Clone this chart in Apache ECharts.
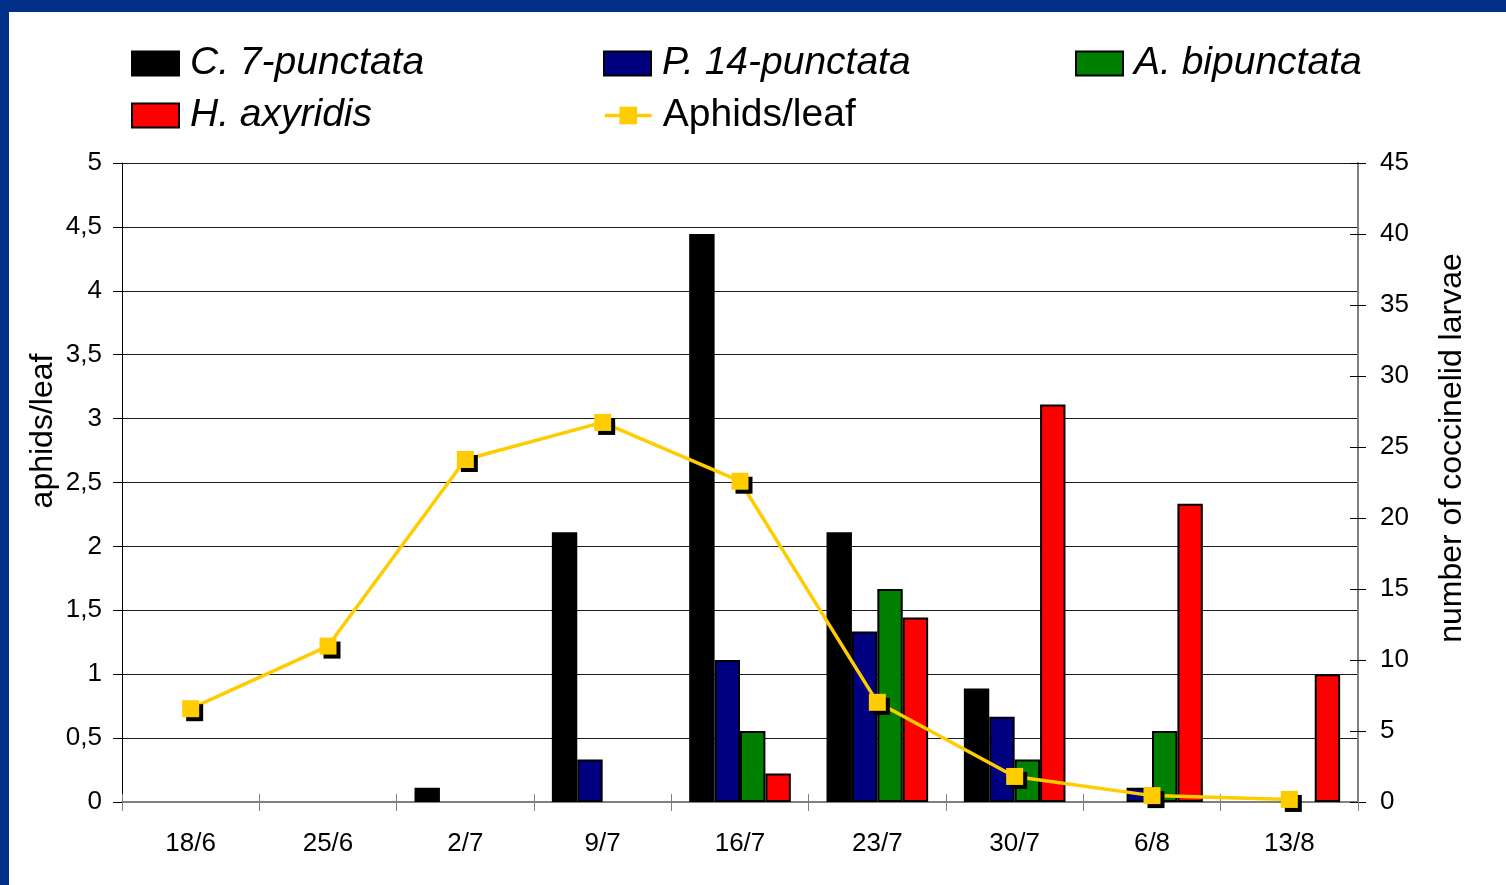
<!DOCTYPE html>
<html>
<head>
<meta charset="utf-8">
<title>Coccinellid larvae and aphids per leaf</title>
<script src="https://cdn.jsdelivr.net/npm/echarts@6/dist/echarts.min.js"></script>
<style>
  html, body { margin: 0; padding: 0; background: #ffffff; }
  #chart { width: 1506px; height: 885px; }
</style>
</head>
<body>
<div id="chart"></div>
<script>
// Sampling dates
const categories = ['18/6', '25/6', '2/7', '9/7', '16/7', '23/7', '30/7', '6/8', '13/8'];

// Number of coccinellid larvae per species (right axis)
const c7punctata = [0, 0, 1, 19, 40, 19, 8, 0, 0];
const p14punctata = [0, 0, 0, 3, 10, 12, 6, 1, 0];
const abipunctata = [0, 0, 0, 0, 5, 15, 3, 5, 0];
const haxyridis = [0, 0, 0, 0, 2, 13, 28, 21, 9];

// Aphids per leaf (left axis)
const aphidsPerLeaf = [0.73, 1.22, 2.68, 2.97, 2.51, 0.78, 0.20, 0.05, 0.02];

// Axis ranges
const leftMax = 5, leftStep = 0.5;
const rightMax = 45, rightStep = 5;

const FONT = '"Liberation Sans", Arial, sans-serif';
const GREY = '#808080';
const FRAME = '#003087';
const YELLOW = '#ffcc00';

const noZero = arr => arr.map(v => (v === 0 ? '-' : v));

const barSeries = [
  { name: 'C. 7-punctata', data: c7punctata, color: '#000000' },
  { name: 'P. 14-punctata', data: p14punctata, color: '#000080' },
  { name: 'A. bipunctata', data: abipunctata, color: '#008000' },
  { name: 'H. axyridis', data: haxyridis, color: '#ff0000' }
].map(s => ({
  name: s.name,
  type: 'bar',
  yAxisIndex: 1,
  data: noZero(s.data),
  barGap: '0%',
  barCategoryGap: '26%',
  itemStyle: { color: s.color, borderColor: '#000000', borderWidth: 2 },
  emphasis: { disabled: true },
  z: 2
}));

const lineSeries = {
  name: 'Aphids/leaf',
  type: 'line',
  yAxisIndex: 0,
  data: aphidsPerLeaf,
  symbol: 'rect',
  symbolSize: 17,
  lineStyle: { color: YELLOW, width: 3.5 },
  itemStyle: {
    color: YELLOW,
    shadowColor: '#000000',
    shadowOffsetX: 4,
    shadowOffsetY: 4,
    shadowBlur: 0
  },
  emphasis: { disabled: true },
  z: 5
};

function legendItem(name, left, top, italic, extra) {
  return Object.assign({
    data: [name],
    left: left,
    top: top,
    padding: 0,
    itemWidth: 47,
    itemHeight: 24,
    icon: 'rect',
    selectedMode: false,
    itemStyle: { shadowColor: 'rgba(0,0,0,0)', shadowOffsetX: 0, shadowOffsetY: 0 },
    textStyle: {
      fontFamily: FONT,
      fontSize: 39,
      fontStyle: italic ? 'italic' : 'normal',
      color: '#000000',
      padding: [0, 0, 0, 6]
    }
  }, extra || {});
}

const chart = echarts.init(document.getElementById('chart'), null, { renderer: 'canvas' });

chart.setOption({
  animation: false,
  backgroundColor: '#ffffff',
  grid: { left: 122, right: 148, top: 163, bottom: 83 },
  legend: [
    legendItem('C. 7-punctata', 131, 44, true),
    legendItem('P. 14-punctata', 603, 44, true),
    legendItem('A. bipunctata', 1075, 44, true),
    legendItem('H. axyridis', 131, 96, true),
    legendItem('Aphids/leaf', 603, 96, false, {
      icon: null,
      itemHeight: 22,
      lineStyle: { color: YELLOW, width: 3.5 }
    })
  ],
  xAxis: [
    {
      type: 'category',
      data: categories,
      position: 'bottom',
      axisLine: { lineStyle: { color: GREY, width: 2 } },
      axisTick: { show: true, length: 9, lineStyle: { color: GREY, width: 1 } },
      axisLabel: { margin: 29, fontFamily: FONT, fontSize: 26, color: '#000000' },
      splitLine: { show: false }
    },
    {
      type: 'category',
      data: categories,
      position: 'bottom',
      axisLine: { show: false },
      axisTick: { show: true, inside: true, length: 8, lineStyle: { color: GREY, width: 1 } },
      axisLabel: { show: false },
      splitLine: { show: false }
    }
  ],
  yAxis: [
    {
      type: 'value',
      position: 'left',
      min: 0,
      max: leftMax,
      interval: leftStep,
      axisLine: { show: true, lineStyle: { color: '#000000', width: 1 } },
      axisTick: { show: true, length: 9, lineStyle: { color: '#000000' } },
      axisLabel: {
        margin: 20,
        fontFamily: FONT,
        fontSize: 26,
        color: '#000000',
        formatter: v => String(v).replace('.', ',')
      },
      splitLine: { show: true, lineStyle: { color: '#1a1a1a', width: 1 } }
    },
    {
      type: 'value',
      position: 'right',
      min: 0,
      max: rightMax,
      interval: rightStep,
      axisLine: { show: true, lineStyle: { color: GREY, width: 2 } },
      axisTick: { show: true, length: 8, lineStyle: { color: '#000000' } },
      axisLabel: { margin: 22, fontFamily: FONT, fontSize: 26, color: '#000000' },
      splitLine: { show: false }
    },
    {
      type: 'value',
      position: 'right',
      min: 0,
      max: rightMax,
      interval: rightStep,
      axisLine: { show: false },
      axisTick: { show: true, inside: true, length: 8, lineStyle: { color: '#000000' } },
      axisLabel: { show: false },
      splitLine: { show: false }
    }
  ],
  graphic: [
    { type: 'rect', left: 0, top: 0, shape: { width: 1506, height: 12 }, style: { fill: FRAME }, z: 100 },
    { type: 'rect', left: 0, top: 0, shape: { width: 9, height: 885 }, style: { fill: FRAME }, z: 100 },
    {
      type: 'text',
      x: 43, y: 431,
      rotation: Math.PI / 2,
      style: {
        text: 'aphids/leaf',
        fontFamily: FONT, fontSize: 32, fill: '#000000',
        textAlign: 'center', textVerticalAlign: 'middle'
      }
    },
    {
      type: 'text',
      x: 1452, y: 448,
      rotation: Math.PI / 2,
      style: {
        text: 'number of coccinelid larvae',
        fontFamily: FONT, fontSize: 32, fill: '#000000',
        textAlign: 'center', textVerticalAlign: 'middle'
      }
    }
  ],
  series: [...barSeries, lineSeries]
});
</script>
</body>
</html>
